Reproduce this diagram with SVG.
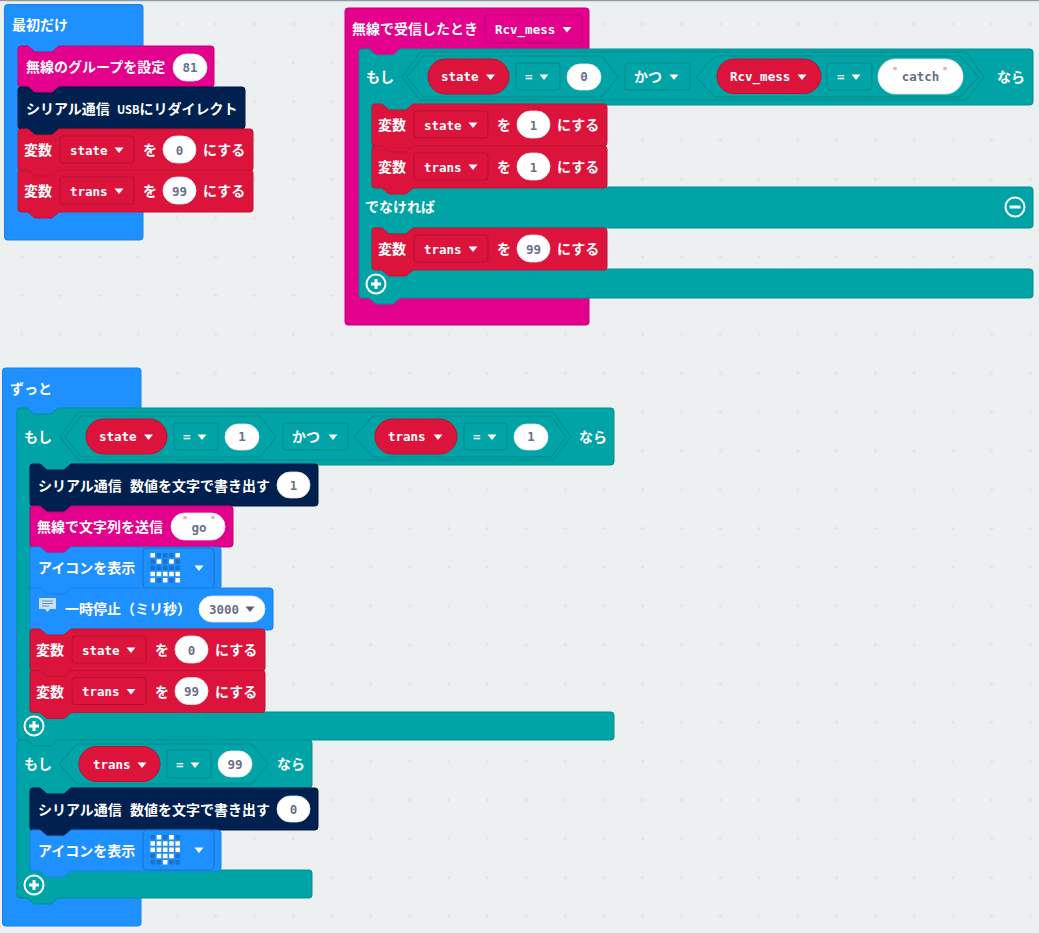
<svg xmlns="http://www.w3.org/2000/svg" width="1039" height="933" viewBox="0 0 1039 933">
<style>
.blue{fill:#1e90ff;stroke:#1a80e6}
.pink{fill:#e3008c;stroke:#c4007a}
.navy{fill:#002050;stroke:#001a40}
.red{fill:#dc143c;stroke:#c01235}
.teal{fill:#00a4a6;stroke:#009092}
.blue,.pink,.navy,.red,.teal{stroke-width:1}
.hex{fill:#00a4a6;stroke:#008a8c;stroke-width:1}
.dd{stroke-width:1}
.ddt{fill:#00a4a6;stroke:#008a8c}
.ddr{fill:#dc143c;stroke:#b01030}
.ddp{fill:#e3008c;stroke:#b8006f}
.ddb{fill:#1e90ff;stroke:#1873cc}
.pill{fill:#fff;stroke:#e4e6ea;stroke-width:.8}
.rp{fill:#dc143c;stroke:#b81032;stroke-width:1}
text{font-family:"Noto Sans CJK JP","Noto Sans",sans-serif}
.t{font-size:14px;font-weight:700;fill:#fff}
.m{font-family:"DejaVu Sans Mono","Liberation Mono",monospace;font-size:12.5px;font-weight:700;fill:#fff}
.n{font-family:"DejaVu Sans Mono","Liberation Mono",monospace;font-size:12.5px;font-weight:700;fill:#6a7088;text-anchor:middle}
.q{font-family:"DejaVu Sans Mono","Liberation Mono",monospace;font-size:10px;fill:#dc6a80;text-anchor:middle}
.arr{fill:#fff}
.darr{fill:#575e75}
.ring{fill:none;stroke:#fff;stroke-width:2}
.bar{fill:none;stroke:#fff;stroke-width:3}
.on{fill:#fff}
</style>
<defs>
<pattern id="grid" x="2.4" y="4.6" width="38.8" height="38.8" patternUnits="userSpaceOnUse">
<path d="M19.4 17.4v4M17.4 19.4h4" stroke="#dde2e5" stroke-width="1" fill="none"/>
</pattern>
<pattern id="leds" width="6.25" height="6.25" patternUnits="userSpaceOnUse">
<rect width="4.6" height="4.6" fill="#1873cc"/>
</pattern>
<path id="arr" d="M-4.5-2.5h9l-4.5 5.5z"/>
<path id="var-shape" d="M0 3q0-3 3-3h7l7 6h17l7-6H232q3 0 3 3V39q0 3-3 3H41l-7 6h-17l-7-6H3q-3 0-3-3z"/>
<path id="plus" d="M-5 0h10M0-5v10"/>
</defs>

<rect width="1039" height="933" fill="#ecf0f1"/>
<rect width="1039" height="933" fill="url(#grid)"/>
<rect width="1039" height="1.2" fill="#8e9aa1"/>

<g id="connectors"></g>

<!-- 最初だけ -->
<g id="hat-start">
<rect class="blue" x="4.5" y="4.5" width="138.5" height="235.5" rx="3"/>
<text class="t" x="12" y="30">最初だけ</text>
</g>
<g id="radio-group" transform="translate(18,46)">
<path class="pink" d="M0 3q0-3 3-3h7l7 6h17l7-6H193q3 0 3 3V38q0 3-3 3H41l-7 6h-17l-7-6H3q-3 0-3-3z"/>
<text class="t" x="8" y="26">無線のグループを設定</text>
<rect class="pill" x="155" y="8" width="34" height="27" rx="13.5"/>
<text class="n" x="172" y="26">81</text>
</g>
<g id="serial-redirect" transform="translate(18,87)">
<path class="navy" d="M0 3q0-3 3-3h7l7 6h17l7-6H224q3 0 3 3V39q0 3-3 3H41l-7 6h-17l-7-6H3q-3 0-3-3z"/>
<text class="t" x="8" y="27">シリアル通信<tspan x="99" font-size="11">USB</tspan>にリダイレクト</text>
</g>
<g id="start-set-state" transform="translate(18,129)">
<use href="#var-shape" class="red"/>
<text class="t" x="6" y="26">変数</text>
<rect class="dd ddr" x="42" y="7" width="74" height="27" rx="3"/>
<text class="m" x="52" y="25.5">state</text><use href="#arr" class="arr" x="101" y="21"/>
<text class="t" x="125" y="26">を</text>
<rect class="pill" x="145" y="7" width="33" height="27" rx="13.5"/>
<text class="n" x="161.5" y="25.5">0</text>
<text class="t" x="185" y="26">にする</text>
</g>
<g id="start-set-trans" transform="translate(18,170)">
<use href="#var-shape" class="red"/>
<text class="t" x="6" y="26">変数</text>
<rect class="dd ddr" x="42" y="7" width="74" height="27" rx="3"/>
<text class="m" x="52" y="25.5">trans</text><use href="#arr" class="arr" x="101" y="21"/>
<text class="t" x="125" y="26">を</text>
<rect class="pill" x="145" y="7" width="33" height="27" rx="13.5"/>
<text class="n" x="161.5" y="25.5">99</text>
<text class="t" x="185" y="26">にする</text>
</g>

<!-- 無線で受信したとき -->
<g id="hat-radio">
<rect class="pink" x="345" y="8" width="244" height="317" rx="3"/>
<text class="t" x="352" y="34">無線で受信したとき</text>
<rect class="dd ddp" x="485" y="15" width="97" height="28" rx="3"/>
<text class="m" x="495" y="34">Rcv_mess</text><use href="#arr" class="arr" x="567" y="29.5"/>
</g>
<g id="radio-if">
<path class="teal" d="M359 52q0-3 3-3h7l7 6h17l7-6H1030q3 0 3 3V102q0 3-3 3H413l-7 6h-17l-7-6H372V187H1030q3 0 3 3V225q0 3-3 3H413l-7 6h-17l-7-6H372V269H1030q3 0 3 3V295q0 3-3 3H400l-7 6h-17l-7-6H362q-3 0-3-3z"/>
<text class="t" x="366" y="82">もし</text>
<polygon class="hex" points="402,77 420,52 966,52 984,77 966,100 420,100"/>
<polygon class="hex" points="407,77 423,56 602,56 618,77 602,97 423,97"/>
<polygon class="hex" points="696,77 715,56 960,56 979,77 960,97 715,97"/>
<rect class="rp" x="428" y="59" width="81" height="35" rx="17.5"/>
<text class="m" x="441" y="81">state</text><use href="#arr" class="arr" x="490.5" y="77"/>
<rect class="dd ddt" x="516" y="63" width="44" height="27" rx="3"/>
<text class="m" x="525" y="81">=</text><use href="#arr" class="arr" x="544" y="77"/>
<rect class="pill" x="567" y="64" width="34" height="26" rx="13"/>
<text class="n" x="584" y="81">0</text>
<rect class="dd ddt" x="625" y="63" width="65" height="27" rx="3"/>
<text class="t" x="634" y="82">かつ</text><use href="#arr" class="arr" x="674" y="77"/>
<rect class="rp" x="717" y="59" width="104" height="34.500" rx="17.2"/>
<text class="m" x="730" y="81">Rcv_mess</text><use href="#arr" class="arr" x="802" y="77"/>
<rect class="dd ddt" x="827" y="63" width="45" height="27" rx="3"/>
<text class="m" x="837" y="81">=</text><use href="#arr" class="arr" x="856" y="77"/>
<rect class="pill" x="878" y="59" width="85" height="35" rx="17.5"/>
<text class="q" x="895" y="75">"</text><text class="n" x="920.5" y="81">catch</text><text class="q" x="945" y="75">"</text>
<text class="t" x="997" y="82">なら</text>
<text class="t" x="365" y="212">でなければ</text>
<g transform="translate(1015,207)"><circle class="ring" r="9.500"/><path class="bar" d="M-5.500 0h11"/></g>
<g transform="translate(376,284)"><circle class="ring" r="9.500"/><use href="#plus" class="bar"/></g>
</g>
<g id="radio-set-state" transform="translate(372,104)">
<use href="#var-shape" class="red"/>
<text class="t" x="6" y="26">変数</text>
<rect class="dd ddr" x="42" y="7" width="74" height="27" rx="3"/>
<text class="m" x="52" y="25.5">state</text><use href="#arr" class="arr" x="101" y="21"/>
<text class="t" x="125" y="26">を</text>
<rect class="pill" x="145" y="7" width="33" height="27" rx="13.5"/>
<text class="n" x="161.5" y="25.5">1</text>
<text class="t" x="185" y="26">にする</text>
</g>
<g id="radio-set-trans" transform="translate(372,146)">
<use href="#var-shape" class="red"/>
<text class="t" x="6" y="26">変数</text>
<rect class="dd ddr" x="42" y="7" width="74" height="27" rx="3"/>
<text class="m" x="52" y="25.5">trans</text><use href="#arr" class="arr" x="101" y="21"/>
<text class="t" x="125" y="26">を</text>
<rect class="pill" x="145" y="7" width="33" height="27" rx="13.5"/>
<text class="n" x="161.5" y="25.5">1</text>
<text class="t" x="185" y="26">にする</text>
</g>
<g id="radio-else-set-trans" transform="translate(372,228)">
<use href="#var-shape" class="red"/>
<text class="t" x="6" y="26">変数</text>
<rect class="dd ddr" x="42" y="7" width="74" height="27" rx="3"/>
<text class="m" x="52" y="25.5">trans</text><use href="#arr" class="arr" x="101" y="21"/>
<text class="t" x="125" y="26">を</text>
<rect class="pill" x="145" y="7" width="33" height="27" rx="13.5"/>
<text class="n" x="161.5" y="25.5">99</text>
<text class="t" x="185" y="26">にする</text>
</g>

<!-- ずっと -->
<g id="hat-forever">
<rect class="blue" x="2.500" y="368" width="138.500" height="558" rx="3"/>
<text class="t" x="10" y="394">ずっと</text>
</g>
<g id="forever-if1">
<path class="teal" d="M17 411q0-3 3-3h7l7 6h17l7-6H611q3 0 3 3V462q0 3-3 3H71l-7 6h-17l-7-6H30V712H611q3 0 3 3V737q0 3-3 3H58l-7 6h-17l-7-6H20q-3 0-3-3z"/>
<text class="t" x="24" y="442">もし</text>
<polygon class="hex" points="60,437 78,412 553,412 571,437 553,460 78,460"/>
<polygon class="hex" points="65,437 81,416 260,416 276,437 260,457 81,457"/>
<polygon class="hex" points="354,437 373,416 551,416 566,437 551,457 373,457"/>
<rect class="rp" x="86" y="419" width="81" height="35" rx="17.5"/>
<text class="m" x="99" y="441">state</text><use href="#arr" class="arr" x="148.500" y="437"/>
<rect class="dd ddt" x="174" y="423" width="44" height="27" rx="3"/>
<text class="m" x="183" y="441">=</text><use href="#arr" class="arr" x="202" y="437"/>
<rect class="pill" x="225" y="424" width="34" height="26" rx="13"/>
<text class="n" x="242" y="441">1</text>
<rect class="dd ddt" x="283" y="423" width="65" height="27" rx="3"/>
<text class="t" x="292" y="442">かつ</text><use href="#arr" class="arr" x="333" y="437"/>
<rect class="rp" x="375" y="419" width="82" height="35" rx="17.5"/>
<text class="m" x="388" y="441">trans</text><use href="#arr" class="arr" x="438" y="437"/>
<rect class="dd ddt" x="464" y="423" width="43" height="27" rx="3"/>
<text class="m" x="473" y="441">=</text><use href="#arr" class="arr" x="492" y="437"/>
<rect class="pill" x="514" y="424" width="34" height="26" rx="13"/>
<text class="n" x="531" y="441">1</text>
<text class="t" x="579" y="442">なら</text>
<g transform="translate(34,726)"><circle class="ring" r="9.500"/><use href="#plus" class="bar"/></g>
</g>
<g id="serial-1" transform="translate(30,464)">
<path class="navy" d="M0 3q0-3 3-3h7l7 6h17l7-6H285q3 0 3 3V39q0 3-3 3H41l-7 6h-17l-7-6H3q-3 0-3-3z"/>
<text class="t" x="8" y="27">シリアル通信</text>
<text class="t" x="100" y="27">数値を文字で書き出す</text>
<rect class="pill" x="247" y="8" width="33" height="26" rx="13"/>
<text class="n" x="263.5" y="25.500">1</text>
</g>
<g id="radio-send" transform="translate(30,506)">
<path class="pink" d="M0 3q0-3 3-3h7l7 6h17l7-6H200q3 0 3 3V38q0 3-3 3H41l-7 6h-17l-7-6H3q-3 0-3-3z"/>
<text class="t" x="7" y="26">無線で文字列を送信</text>
<rect class="pill" x="141" y="7" width="54" height="27" rx="13.5"/>
<text class="q" x="155" y="18">"</text><text class="n" x="169" y="25.500">go</text><text class="q" x="183" y="18">"</text>
</g>
<g id="show-icon-1" transform="translate(30,547)">
<path class="blue" d="M0 3q0-3 3-3h7l7 6h17l7-6H188q3 0 3 3V39q0 3-3 3H41l-7 6h-17l-7-6H3q-3 0-3-3z"/>
<text class="t" x="8" y="26">アイコンを表示</text>
<rect class="dd ddb" x="113" y="1" width="71" height="40" rx="4"/>
<g transform="translate(120.400,6)">
<rect width="30" height="30" fill="url(#leds)"/>
<path class="on" d="M0 0h4.600v4.600H0zM25 0h4.600v4.600H25zM6.250 6.250h4.600v4.600h-4.600zM18.750 6.250h4.600v4.600h-4.600zM0 18.750h4.600v4.600H0zM6.250 18.750h4.600v4.600h-4.600zM12.500 18.750h4.600v4.600h-4.600zM18.750 18.750h4.600v4.600h-4.600zM25 18.750h4.600v4.600H25zM0 25h4.600v4.600H0zM12.500 25h4.600v4.600h-4.600zM25 25h4.600v4.600H25z"/>
</g>
<use href="#arr" class="arr" x="169" y="21"/>
</g>
<g id="pause" transform="translate(30,588)">
<path class="blue" d="M0 3q0-3 3-3h7l7 6h17l7-6H240q3 0 3 3V39q0 3-3 3H41l-7 6h-17l-7-6H3q-3 0-3-3z"/>
<path d="M9 10h17v11h-6l-2.500 3-2.500-3H9z" fill="#c6e2fb"/>
<path d="M12 13h11M12 15.500h11M12 18h7" stroke="#6f8fb0" stroke-width="1.200" fill="none"/>
<text class="t" x="35" y="26">一時停止（ミリ秒）</text>
<rect class="pill" x="169" y="8" width="66" height="26" rx="13"/>
<text class="n" x="194" y="25.500">3000</text><use href="#arr" class="darr" x="220" y="21"/>
</g>
<g id="forever-set-state" transform="translate(30,629)">
<use href="#var-shape" class="red"/>
<text class="t" x="6" y="26">変数</text>
<rect class="dd ddr" x="42" y="7" width="74" height="27" rx="3"/>
<text class="m" x="52" y="25.5">state</text><use href="#arr" class="arr" x="101" y="21"/>
<text class="t" x="125" y="26">を</text>
<rect class="pill" x="145" y="7" width="33" height="27" rx="13.5"/>
<text class="n" x="161.5" y="25.5">0</text>
<text class="t" x="185" y="26">にする</text>
</g>
<g id="forever-set-trans" transform="translate(30,670.500)">
<use href="#var-shape" class="red"/>
<text class="t" x="6" y="26">変数</text>
<rect class="dd ddr" x="42" y="7" width="74" height="27" rx="3"/>
<text class="m" x="52" y="25.5">trans</text><use href="#arr" class="arr" x="101" y="21"/>
<text class="t" x="125" y="26">を</text>
<rect class="pill" x="145" y="7" width="33" height="27" rx="13.5"/>
<text class="n" x="161.5" y="25.5">99</text>
<text class="t" x="185" y="26">にする</text>
</g>
<g id="forever-if2">
<path class="teal" d="M17 743q0-3 3-3h7l7 6h17l7-6H309q3 0 3 3V785q0 3-3 3H71l-7 6h-17l-7-6H30V870H309q3 0 3 3V895q0 3-3 3H58l-7 6h-17l-7-6H20q-3 0-3-3z"/>
<text class="t" x="24" y="769">もし</text>
<polygon class="hex" points="59,764 77,744 252,744 268,764 252,784 77,784"/>
<rect class="rp" x="79" y="746.500" width="81" height="35" rx="17.5"/>
<text class="m" x="93" y="769">trans</text><use href="#arr" class="arr" x="142" y="765"/>
<rect class="dd ddt" x="167" y="750" width="44" height="28" rx="3"/>
<text class="m" x="176" y="769">=</text><use href="#arr" class="arr" x="195" y="765"/>
<rect class="pill" x="218" y="751" width="34" height="26" rx="13"/>
<text class="n" x="235" y="769">99</text>
<text class="t" x="277" y="769">なら</text>
<g transform="translate(34,885)"><circle class="ring" r="9.500"/><use href="#plus" class="bar"/></g>
</g>
<g id="serial-0" transform="translate(30,788)">
<path class="navy" d="M0 3q0-3 3-3h7l7 6h17l7-6H285q3 0 3 3V39q0 3-3 3H41l-7 6h-17l-7-6H3q-3 0-3-3z"/>
<text class="t" x="8" y="27">シリアル通信</text>
<text class="t" x="100" y="27">数値を文字で書き出す</text>
<rect class="pill" x="247" y="8" width="33" height="26" rx="13"/>
<text class="n" x="263.5" y="25.500">0</text>
</g>
<g id="show-icon-2" transform="translate(30,830)">
<path class="blue" d="M0 3q0-3 3-3h7l7 6h17l7-6H188q3 0 3 3V38q0 3-3 3H41l-7 6h-17l-7-6H3q-3 0-3-3z"/>
<text class="t" x="8" y="26">アイコンを表示</text>
<rect class="dd ddb" x="113" y="0" width="71" height="40" rx="4"/>
<g transform="translate(120.400,5)">
<rect width="30" height="30" fill="url(#leds)"/>
<path class="on" d="M6.250 0h4.600v4.600h-4.600zM18.750 0h4.600v4.600h-4.600zM0 6.250h4.600v4.600H0zM6.250 6.250h4.600v4.600h-4.600zM12.500 6.250h4.600v4.600h-4.600zM18.750 6.250h4.600v4.600h-4.600zM25 6.250h4.600v4.600H25zM0 12.500h4.600v4.600H0zM6.250 12.500h4.600v4.600h-4.600zM12.500 12.500h4.600v4.600h-4.600zM18.750 12.500h4.600v4.600h-4.600zM25 12.500h4.600v4.600H25zM6.250 18.750h4.600v4.600h-4.600zM12.500 18.750h4.600v4.600h-4.600zM18.750 18.750h4.600v4.600h-4.600zM12.500 25h4.600v4.600h-4.600z"/>
</g>
<use href="#arr" class="arr" x="169" y="20"/>
</g>
</svg>
